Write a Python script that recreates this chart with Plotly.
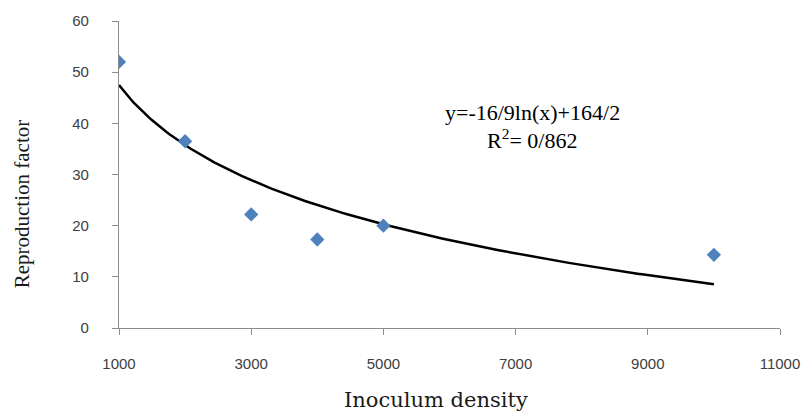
import numpy as np
import plotly.graph_objects as go

density = [1000, 2000, 3000, 4000, 5000, 10000]
repro = [52.0, 36.5, 22.2, 17.3, 20.0, 14.3]
slope = -16.9
intercept = 164.2
x_ticks = [1000, 3000, 5000, 7000, 9000, 11000]
x_tick_text = ["1000", "3000", "5000", "7000", "9000", "11000"]
y_ticks = [0, 10, 20, 30, 40, 50, 60]

xf = np.linspace(1000, 10000, 200)
yf = slope * np.log(xf) + intercept

fig = go.Figure()
fig.add_trace(go.Scatter(x=xf, y=yf, mode="lines",
                         line=dict(color="black", width=2.5), hoverinfo="skip"))
fig.add_trace(go.Scatter(x=density, y=repro, mode="markers",
                         marker=dict(symbol="diamond", size=11, color="#4F81BD")))

axis_common = dict(showgrid=False, zeroline=False, showline=True, linecolor="#8c8c8c",
                   linewidth=1.3, ticks="outside", ticklen=6, tickcolor="#8c8c8c",
                   tickfont=dict(family="Liberation Sans, Arial", size=15, color="#404040"))

L, R, T, B = 119, 26, 20, 85
W, H = 812, 413
pw, ph = W - L - R, H - T - B

fig.update_layout(
    width=W, height=H,
    margin=dict(l=L, r=R, t=T, b=B),
    paper_bgcolor="white", plot_bgcolor="white",
    showlegend=False,
    xaxis=dict(range=[1000, 11000], tickvals=x_ticks, ticktext=x_tick_text,
               ticklabelstandoff=16, **axis_common),
    yaxis=dict(range=[0, 60], tickvals=y_ticks, ticklabelstandoff=20, **axis_common),
    annotations=[
        dict(x=7250, y=42.1, xref="x", yref="y", showarrow=False,
             text="y=-16/9ln(x)+164/2",
             font=dict(family="Liberation Serif, Times New Roman", size=22, color="black")),
        dict(x=7250, y=37.0, xref="x", yref="y", showarrow=False,
             text="R<sup>2</sup>= 0/862",
             font=dict(family="Liberation Serif, Times New Roman", size=22, color="black")),
        dict(x=(439 - L) / pw, y=-(400 - T - ph) / ph, xref="paper", yref="paper",
             showarrow=False, text="Inoculum density", xanchor="center", yanchor="middle",
             font=dict(family="DejaVu Serif", size=21, color="#1a1a1a")),
        dict(x=-(L - 22) / pw, y=(T + ph - 203) / ph, xref="paper", yref="paper",
             showarrow=False, text="Reproduction factor", textangle=-90,
             xanchor="center", yanchor="middle",
             font=dict(family="Liberation Serif, Times New Roman", size=21, color="#1a1a1a")),
    ],
)

fig.write_html("out.html")
